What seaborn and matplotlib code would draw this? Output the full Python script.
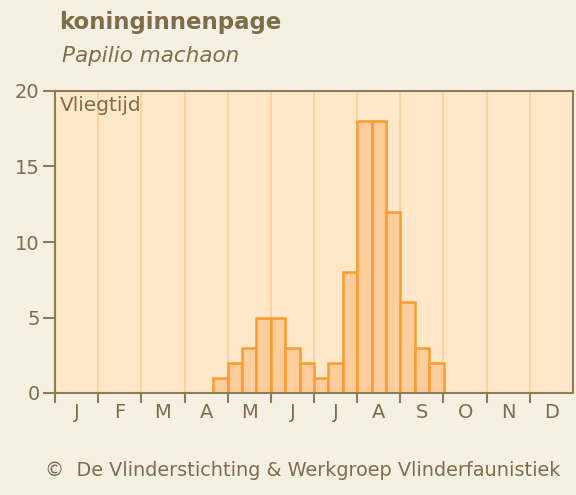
import matplotlib
matplotlib.use("Agg")
import matplotlib.pyplot as plt
import pandas as pd
import seaborn as sns

# flight period counts per 10-day period (decade 0 = 1-10 Jan)
decades = [11, 12, 13, 14, 15, 16, 17, 18, 19, 20, 21, 22, 23, 24, 25, 26]
counts = [1, 2, 3, 5, 5, 3, 2, 1, 2, 8, 18, 18, 12, 6, 3, 2]
months = ["J", "F", "M", "A", "M", "J", "J", "A", "S", "O", "N", "D"]

brown = "#7d6d4b"
frame = "#8c7c5a"

df = pd.DataFrame({"decade": [d + 0.5 for d in decades], "count": counts})

sns.set_style("white")
plt.rcParams["font.family"] = ["DejaVu Sans"]

fig = plt.figure(figsize=(5.76, 4.95), dpi=100, facecolor="#f6f0e3")
ax = fig.add_axes([55 / 576, 1 - 393 / 495, 518 / 576, 302 / 495])
ax.set_facecolor("#ffe7c7")

# month separators
for m in range(1, 12):
    ax.axvline(m * 3, color="#ffcc9c", lw=1.2, zorder=0)

sns.barplot(data=df, x="decade", y="count", native_scale=True, width=1,
            color="#ffcc9c", edgecolor="#ff9a2e", linewidth=1.8,
            saturation=1, ax=ax, zorder=2)

ax.set_xlim(0, 36)
ax.set_ylim(0, 20)
ax.set_xlabel("")
ax.set_ylabel("")

ax.set_xticks([m * 3 for m in range(12)])
ax.set_xticklabels([])
ax.set_xticks([m * 3 + 1.5 for m in range(12)], minor=True)
ax.set_xticklabels(months, minor=True)
ax.tick_params(axis="x", which="major", bottom=True, direction="out",
               length=7, width=1.5, color=frame)
ax.tick_params(axis="x", which="minor", bottom=False, length=0, pad=7,
               labelsize=14, labelcolor=brown)
ax.set_yticks([0, 5, 10, 15, 20])
ax.tick_params(axis="y", left=True, direction="out", length=9, width=1.5,
               color=frame, labelsize=14, labelcolor=brown, pad=2)

for s in ax.spines.values():
    s.set_color(frame)
    s.set_linewidth(1.5)

ax.text(0.01, 0.985, "Vliegtijd", transform=ax.transAxes, ha="left", va="top",
        fontsize=14.5, color=brown)

fig.text(59 / 576, 1 - 22 / 495, "koninginnenpage", fontsize=16.5,
         fontweight="bold", color=brown, va="center", ha="left")
fig.text(62 / 576, 1 - 56 / 495, "Papilio machaon", fontsize=15.5,
         fontstyle="italic", color=brown, va="center", ha="left")
fig.text(45 / 576, 1 - 470 / 495,
         "\u00a9  De Vlinderstichting & Werkgroep Vlinderfaunistiek",
         fontsize=13.9, color=brown, va="center", ha="left")

fig.savefig("out.png", dpi=100, facecolor=fig.get_facecolor())
